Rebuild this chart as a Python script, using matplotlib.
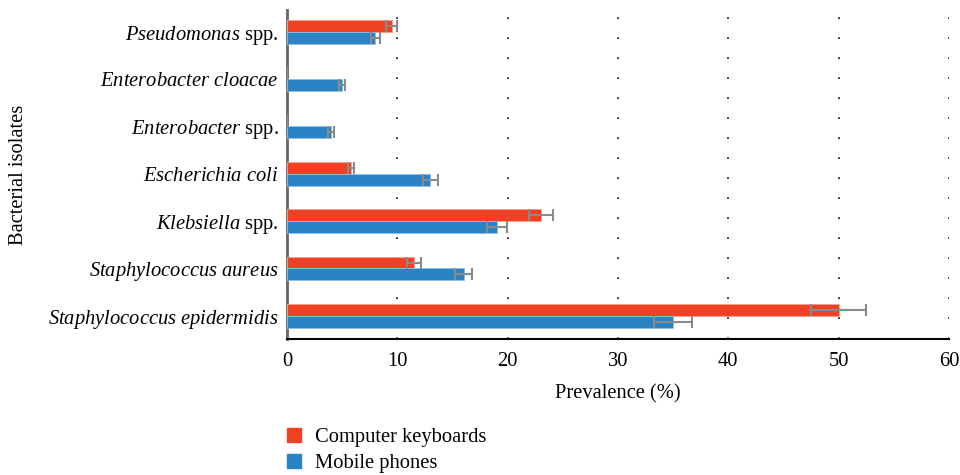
import numpy as np
import matplotlib.pyplot as plt
from matplotlib.patches import Patch

# Data, bottom to top
isolates = ["Staphylococcus epidermidis", "Staphylococcus aureus", "Klebsiella spp.",
            "Escherichia coli", "Enterobacter spp.", "Enterobacter cloacae", "Pseudomonas spp."]
labels = [r"$\it{Staphylococcus\ epidermidis}$", r"$\it{Staphylococcus\ aureus}$",
          r"$\it{Klebsiella}$ spp.", r"$\it{Escherichia\ coli}$", r"$\it{Enterobacter}$ spp.",
          r"$\it{Enterobacter\ cloacae}$", r"$\it{Pseudomonas}$ spp."]
keyboards = [50.0, 11.5, 23.0, 5.8, 0.0, 0.0, 9.5]
keyboards_err = [2.5, 0.6, 1.1, 0.25, 0.0, 0.0, 0.5]
phones = [35.0, 16.0, 19.0, 13.0, 4.0, 5.0, 8.0]
phones_err = [1.7, 0.8, 0.9, 0.7, 0.25, 0.25, 0.4]

plt.rcParams["font.family"] = "Liberation Serif"
plt.rcParams["mathtext.fontset"] = "custom"
plt.rcParams["mathtext.it"] = "Liberation Serif:italic"
plt.rcParams["mathtext.rm"] = "Liberation Serif"

red = "#f04124"
blue = "#2a84c4"
fs = 14.8

fig = plt.figure(figsize=(9.6, 4.75), dpi=100)
ax = fig.add_axes([0.299, 0.2863, 0.6895, 0.6927])

y = np.arange(len(isolates))
h = 0.25
ekw = dict(ecolor="#8a8a8a", elinewidth=1.5, capthick=1.5)
ax.barh(y + h / 2, keyboards, height=h, color=red, edgecolor="#f6a08e", linewidth=0.6,
        xerr=keyboards_err, capsize=4, error_kw=ekw, zorder=3)
ax.barh(y - h / 2, phones, height=h, color=blue, edgecolor="#8cc0e4", linewidth=0.6,
        xerr=phones_err, capsize=4, error_kw=ekw, zorder=3)

ax.set_xlim(0, 60)
ax.set_ylim(-0.49, 6.46)
ax.set_xticks(range(0, 61, 10))
ax.set_yticks(y)
ax.set_yticklabels(labels, fontsize=fs)
ax.tick_params(axis="x", length=0, labelsize=fs, pad=9)
ax.tick_params(axis="y", length=0, pad=6)
ax.xaxis.grid(True, color="black", linestyle=(0, (1, 11)), linewidth=1.2)
ax.set_axisbelow(True)

for s in ["top", "right"]:
    ax.spines[s].set_visible(False)
ax.spines["left"].set_color("#666666")
ax.spines["left"].set_linewidth(2)
ax.spines["bottom"].set_color("black")
ax.spines["bottom"].set_linewidth(1.5)

ax.set_xlabel("Prevalence (%)", fontsize=fs, labelpad=10)
fig.text(0.019, 0.632, "Bacterial isolates", rotation=90, fontsize=fs, va="center", ha="center")

handles = [Patch(color=red, label="Computer keyboards"), Patch(color=blue, label="Mobile phones")]
fig.legend(handles=handles, loc="lower left", bbox_to_anchor=(0.28, -0.035), frameon=False,
           fontsize=fs, handlelength=0.65, handleheight=0.65, handletextpad=0.7, labelspacing=0.33)

fig.savefig("out.png", dpi=100)
